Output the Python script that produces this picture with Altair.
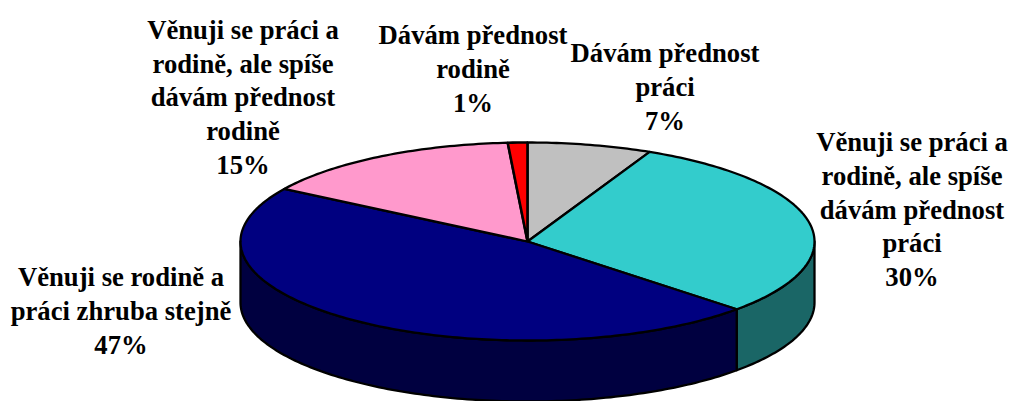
import math
import altair as alt
import pandas as pd

names = ["Dávám přednost práci", "Věnuji se práci a rodině, ale spíše dávám přednost práci",
         "Věnuji se rodině a práci zhruba stejně", "Věnuji se práci a rodině, ale spíše dávám přednost rodině",
         "Dávám přednost rodině"]
shares = [7, 30, 46.9, 15, 1.1]
colors = ["#C0C0C0", "#33CCCC", "#000080", "#FF99CC", "#FF0000"]
side_colors = {1: "#1A6666", 2: "#000040"}
label_lines = [
    ["Dávám přednost", "práci", "7%"],
    ["Věnuji se práci a", "rodině, ale spíše", "dávám přednost", "práci", "30%"],
    ["Věnuji se rodině a", "práci zhruba stejně", "47%"],
    ["Věnuji se práci a", "rodině, ale spíše", "dávám přednost", "rodině", "15%"],
    ["Dávám přednost", "rodině", "1%"],
]

# layout, in picture pixels
CX, CY, RX, RY, DEPTH = 527.5, 241.5, 287, 99, 61
label_x = [665, 912, 121, 243, 473]
label_top = [41.5, 130.5, 265.5, 18, 23.5]
W, H = 1008, 393
S = W / 1000  # the page shrinks the 1008 px drawing to its 1000 px body
Y0 = 8 + (H - H / S) / 2
LINE_H = 33.7 * S
FONT = 26.67 * S

def pt(deg, dy=0):
    r = math.radians(deg)
    return CX + RX * math.sin(r), CY - RY * math.cos(r) + dy

def arc(a, b, dy=0):
    n = max(2, int(abs(b - a)) + 1)
    return [pt(a + (b - a) * i / n, dy) for i in range(n + 1)]

x_scale = alt.Scale(domain=[8, 8 + W / S], range=[0, W], nice=False, zero=False)
y_scale = alt.Scale(domain=[Y0, Y0 + H / S], range=[0, H], nice=False, zero=False)

def shape(points, fill, sw=2.3, join="round"):
    df = pd.DataFrame({"x": [p[0] for p in points], "y": [p[1] for p in points],
                       "i": list(range(len(points)))})
    return alt.Chart(df).mark_line(fill=fill, stroke="black", strokeWidth=sw, strokeJoin=join,
                                   clip=False, interpolate="linear-closed").encode(
        x=alt.X("x:Q", scale=x_scale, axis=None),
        y=alt.Y("y:Q", scale=y_scale, axis=None),
        order="i:Q",
    )

edges = [0]
for s in shares:
    edges.append(edges[-1] + s * 3.6 * 100 / sum(shares))

layers = []
# rim: the front half of the pie, from 90° to 270°
for i in [1, 2]:
    a, b = max(edges[i], 90), min(edges[i + 1], 270)
    layers.append(shape(arc(a, b) + arc(b, a, DEPTH), side_colors[i]))
for i in range(len(shares)):
    pts = [(CX, CY)] + arc(edges[i], edges[i + 1])
    if i == 4:
        layers.append(shape(pts, colors[i], 2.6, "bevel"))
    else:
        layers.append(shape(pts, colors[i]))

labels = pd.DataFrame({"t": ["\n".join(l) for l in label_lines], "x": label_x, "y": label_top})
text = alt.Chart(labels).mark_text(font="Liberation Serif", fontWeight="bold", fontSize=FONT,
                                   color="black", align="center", baseline="top",
                                   lineBreak="\n", lineHeight=LINE_H).encode(
    x=alt.X("x:Q", scale=x_scale, axis=None),
    y=alt.Y("y:Q", scale=y_scale, axis=None),
    text="t:N",
)

chart = alt.layer(*layers, text).properties(
    width=W, height=H, padding=0, autosize=alt.AutoSizeParams(type="none")
).configure_view(stroke=None)

chart.save("out.html", embed_options={"renderer": "svg", "actions": False})
